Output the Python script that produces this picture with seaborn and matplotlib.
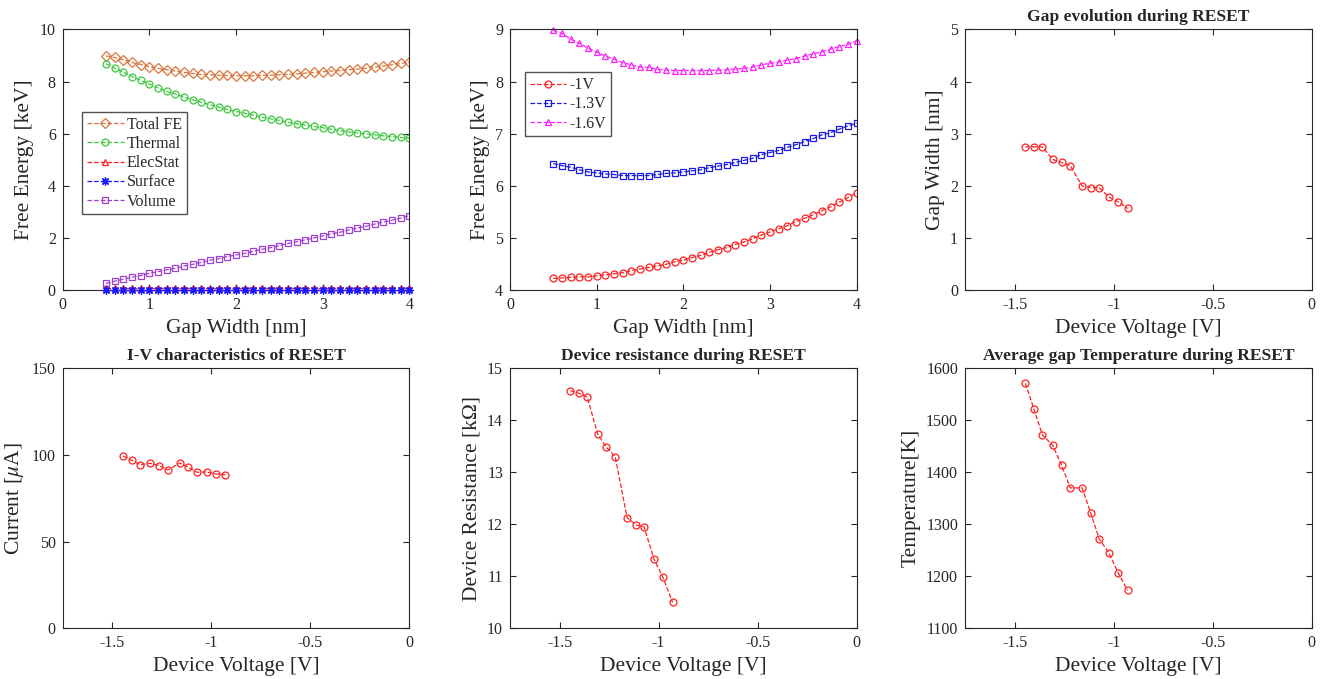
import numpy as np
import pandas as pd
import matplotlib
matplotlib.use("Agg")
import matplotlib.pyplot as plt
import seaborn as sns

sns.set_theme(style="white")
plt.rcParams['font.family'] = ['Liberation Serif', 'DejaVu Serif']
plt.rcParams['mathtext.fontset'] = 'stix'
plt.rcParams['axes.unicode_minus'] = False

# --- data: free energy vs gap width ---
gap = [0.5, 0.6, 0.7, 0.8, 0.9, 1.0, 1.1, 1.2, 1.3, 1.4, 1.5, 1.6,
       1.7, 1.8, 1.9, 2.0, 2.1, 2.2, 2.3, 2.4, 2.5, 2.6, 2.7, 2.8,
       2.9, 3.0, 3.1, 3.2, 3.3, 3.4, 3.5, 3.6, 3.7, 3.8, 3.9, 4.0]

total_fe = [8.98, 8.92, 8.83, 8.73, 8.65, 8.57, 8.50, 8.45, 8.40, 8.35, 8.31, 8.27,
            8.26, 8.24, 8.23, 8.22, 8.22, 8.22, 8.23, 8.24, 8.26, 8.27, 8.29, 8.32,
            8.35, 8.37, 8.40, 8.42, 8.45, 8.47, 8.51, 8.55, 8.59, 8.64, 8.69, 8.75]
thermal = [8.68, 8.51, 8.36, 8.19, 8.04, 7.90, 7.75, 7.62, 7.52, 7.40, 7.30, 7.20,
           7.11, 7.02, 6.93, 6.85, 6.79, 6.71, 6.63, 6.57, 6.51, 6.44, 6.38, 6.33,
           6.28, 6.23, 6.17, 6.12, 6.07, 6.03, 6.00, 5.96, 5.92, 5.89, 5.86, 5.82]
elecstat = [0.1, 0.1, 0.1, 0.1, 0.1, 0.1, 0.1, 0.1, 0.1, 0.1, 0.1, 0.1,
            0.1, 0.1, 0.1, 0.1, 0.1, 0.1, 0.1, 0.1, 0.1, 0.1, 0.1, 0.1,
            0.1, 0.1, 0.1, 0.1, 0.1, 0.1, 0.1, 0.1, 0.1, 0.1, 0.1, 0.1]
surface = [0.01, 0.01, 0.01, 0.01, 0.01, 0.01, 0.01, 0.01, 0.01, 0.01, 0.01, 0.01,
           0.01, 0.01, 0.01, 0.01, 0.01, 0.01, 0.01, 0.01, 0.01, 0.01, 0.01, 0.01,
           0.01, 0.01, 0.01, 0.01, 0.01, 0.01, 0.01, 0.01, 0.01, 0.01, 0.01, 0.01]
volume = [0.27, 0.36, 0.43, 0.51, 0.57, 0.66, 0.72, 0.79, 0.85, 0.94, 1.00, 1.08,
          1.16, 1.22, 1.30, 1.36, 1.42, 1.50, 1.58, 1.64, 1.72, 1.80, 1.87, 1.94,
          2.01, 2.09, 2.17, 2.23, 2.31, 2.39, 2.46, 2.54, 2.62, 2.69, 2.77, 2.87]

fe_1v = [4.23, 4.24, 4.25, 4.26, 4.26, 4.28, 4.30, 4.32, 4.34, 4.38, 4.41, 4.44,
         4.47, 4.50, 4.55, 4.58, 4.63, 4.67, 4.73, 4.78, 4.82, 4.88, 4.93, 4.99,
         5.06, 5.12, 5.18, 5.24, 5.32, 5.38, 5.45, 5.53, 5.60, 5.69, 5.78, 5.87]
fe_13v = [6.43, 6.39, 6.36, 6.31, 6.27, 6.25, 6.23, 6.22, 6.20, 6.20, 6.20, 6.20,
          6.22, 6.24, 6.25, 6.27, 6.29, 6.31, 6.35, 6.38, 6.41, 6.45, 6.49, 6.53,
          6.60, 6.64, 6.68, 6.74, 6.79, 6.85, 6.91, 6.98, 7.02, 7.09, 7.15, 7.20]
fe_16v = [8.98, 8.92, 8.81, 8.73, 8.64, 8.56, 8.49, 8.43, 8.36, 8.32, 8.28, 8.27,
          8.23, 8.22, 8.21, 8.21, 8.21, 8.21, 8.21, 8.22, 8.22, 8.24, 8.25, 8.28,
          8.32, 8.35, 8.37, 8.41, 8.44, 8.49, 8.53, 8.57, 8.62, 8.67, 8.71, 8.78]

# --- data: RESET sweep ---
voltage = [-1.445, -1.402, -1.360, -1.308, -1.263, -1.219,
           -1.159, -1.116, -1.073, -1.024, -0.978, -0.929]
gap_width = [2.75, 2.75, 2.75, 2.51, 2.45, 2.39, 2.00, 1.97, 1.97, 1.79, 1.70, 1.57]
current = [99.4, 96.9, 94.4, 95.2, 93.8, 91.3, 95.4, 92.9, 90.0, 90.2, 89.0, 88.6]
resistance = [14.57, 14.52, 14.45, 13.74, 13.48, 13.30, 12.13, 11.99, 11.95, 11.34, 10.98, 10.50]
temperature = [1571, 1521, 1472, 1452, 1414, 1370, 1370, 1322, 1272, 1245, 1207, 1173]

axis_gray = '#262626'
ms = 5
tick_fs = 11.5
label_fs = 15.5

fig = plt.figure(figsize=(13.24, 6.79), dpi=100)
lefts = [0.0474, 0.3852, 0.7289]
w = 0.2618
top_b, top_h = 0.5722, 0.3847
bot_b, bot_h = 0.0747, 0.3829
axs = [[fig.add_axes([l, top_b, w, top_h]) for l in lefts],
       [fig.add_axes([l, bot_b, w, bot_h]) for l in lefts]]


def style_axes(ax):
    for s in ax.spines.values():
        s.set_color(axis_gray)
        s.set_linewidth(0.8)
    ax.tick_params(direction='in', length=4, width=0.8, colors=axis_gray,
                   labelsize=tick_fs, top=True, right=True, bottom=True, left=True, pad=5)
    ax.grid(False)


def series(ax, x, y, color, marker, label=None, clip=True, size=ms, z=2):
    sns.lineplot(x=x, y=y, ax=ax, color=color, marker=marker, linestyle='--',
                 linewidth=0.9, markersize=size, markerfacecolor='none',
                 markeredgecolor=color, markeredgewidth=0.9, label=label,
                 clip_on=clip, dashes=(6, 4), zorder=z)


def add_legend(ax, anchor):
    ax.legend(loc='upper left', bbox_to_anchor=anchor, borderaxespad=0,
              fontsize=tick_fs, frameon=True, fancybox=False, edgecolor=axis_gray,
              handlelength=2.3, borderpad=0.3, labelspacing=0.2, handletextpad=0.2)


# top-left: free energy components
ax = axs[0][0]
series(ax, gap, total_fe, '#D9773D', 'D', 'Total FE', size=5.2)
series(ax, gap, thermal, '#3CC83C', 'o', 'Thermal')
series(ax, gap, elecstat, '#FF2020', '^', 'ElecStat', clip=False, z=3)
series(ax, gap, surface, '#1A1AFF', (8, 2, 0), 'Surface', clip=False, size=6, z=4)
series(ax, gap, volume, '#A040D0', 's', 'Volume', size=4.6)
ax.set_xlim(0, 4)
ax.set_ylim(0, 10)
ax.set_xticks([0, 1, 2, 3, 4])
ax.set_yticks([0, 2, 4, 6, 8, 10])
ax.set_xlabel('Gap Width [nm]', fontsize=label_fs)
ax.set_ylabel('Free Energy [keV]', fontsize=label_fs)
add_legend(ax, (0.056, 0.683))

# top-middle: free energy at different voltages
ax = axs[0][1]
series(ax, gap, fe_1v, '#FF2020', 'o', '-1V')
series(ax, gap, fe_13v, '#1A1AE6', 's', '-1.3V', size=4.6)
series(ax, gap, fe_16v, '#FF20FF', '^', '-1.6V', clip=False)
ax.set_xlim(0, 4)
ax.set_ylim(4, 9)
ax.set_xticks([0, 1, 2, 3, 4])
ax.set_yticks([4, 5, 6, 7, 8, 9])
ax.set_xlabel('Gap Width [nm]', fontsize=label_fs)
ax.set_ylabel('Free Energy [keV]', fontsize=label_fs)
add_legend(ax, (0.043, 0.835))

# RESET panels
reset_panels = [
    (axs[0][2], gap_width, 'Gap evolution during RESET', 'Gap Width [nm]', (0, 5), [0, 1, 2, 3, 4, 5]),
    (axs[1][0], current, 'I-V characteristics of RESET', r'Current [$\mu$A]', (0, 150), [0, 50, 100, 150]),
    (axs[1][1], resistance, 'Device resistance during RESET', 'Device Resistance [k\u03a9]', (10, 15), [10, 11, 12, 13, 14, 15]),
    (axs[1][2], temperature, 'Average gap Temperature during RESET', 'Temperature[K]', (1100, 1600), [1100, 1200, 1300, 1400, 1500, 1600]),
]
for ax, vals, title, ylabel, ylim, yticks in reset_panels:
    series(ax, voltage, vals, '#FF2020', 'o')
    ax.set_xlim(-1.75, 0)
    ax.set_xticks([-1.5, -1, -0.5, 0])
    ax.set_xticklabels(['-1.5', '-1', '-0.5', '0'])
    ax.set_ylim(*ylim)
    ax.set_yticks(yticks)
    ax.set_title(title, fontsize=12.6, fontweight='bold', pad=6)
    ax.set_xlabel('Device Voltage [V]', fontsize=label_fs)
    ax.set_ylabel(ylabel, fontsize=label_fs)

for row in axs:
    for ax in row:
        style_axes(ax)

fig.savefig('out.png', dpi=100, facecolor='white')
